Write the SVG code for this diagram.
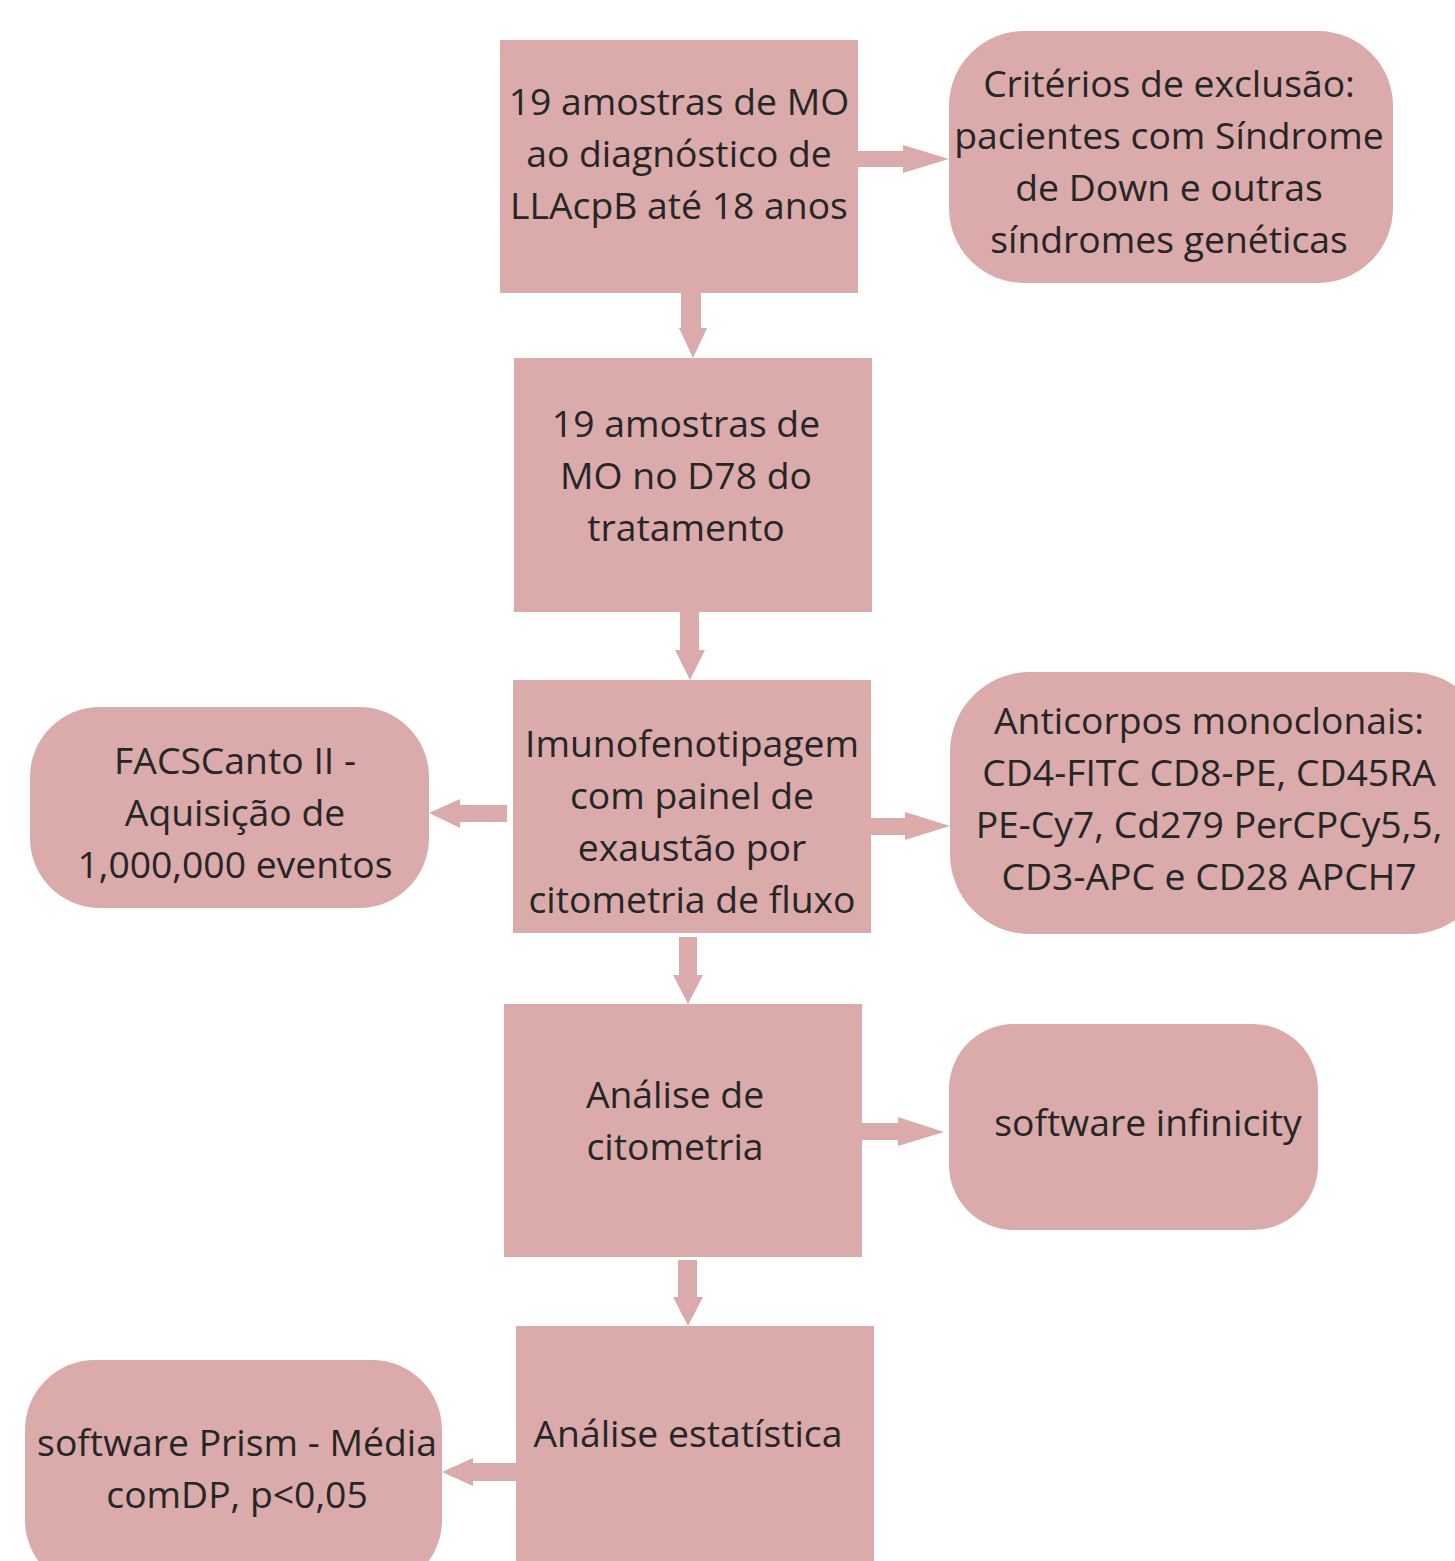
<svg xmlns="http://www.w3.org/2000/svg" width="1455" height="1561" viewBox="0 0 1455 1561">
<style>
.n{fill:#dbaaab;}
.t{font-family:"Open Sans","Noto Sans",sans-serif;font-size:37.3px;fill:#262626;text-anchor:middle;}
.a{fill:#dbaaab;}
</style>
<rect width="1455" height="1561" fill="#ffffff"/>
<g id="connectors">
<polygon class="a" points="858,151 903,151 903,145 949,159 903,173 903,167 858,167"/>
<polygon class="a" points="681,293 701,293 701,328 707,328 693,358 679,328 681,328"/>
<polygon class="a" points="680,612 699,612 699,650 705,650 690,680 675,650 680,650"/>
<polygon class="a" points="507,805 460,805 460,799 429,813 460,828 460,822 507,822"/>
<polygon class="a" points="871,818 905,818 905,812 950,826 905,840 905,835 871,835"/>
<polygon class="a" points="679,937 697,937 697,975 703,975 688,1004 673,975 679,975"/>
<polygon class="a" points="862,1123 898,1123 898,1117 944,1132 898,1146 898,1140 862,1140"/>
<polygon class="a" points="678,1260 697,1260 697,1297 703,1297 688,1326 673,1297 678,1297"/>
<polygon class="a" points="516,1463 473,1463 473,1458 442,1472 473,1486 473,1481 516,1481"/>
</g>
<g id="n1">
<rect class="n" x="500" y="40" width="358" height="253"/>
<text class="t" x="679" y="115">19 amostras de MO</text>
<text class="t" x="679" y="167">ao diagnóstico de</text>
<text class="t" x="679" y="219">LLAcpB até 18 anos</text>
</g>
<g id="n2">
<rect class="n" x="949" y="31" width="444" height="252" rx="75"/>
<text class="t" x="1169" y="97">Critérios de exclusão:</text>
<text class="t" x="1169" y="149">pacientes com Síndrome</text>
<text class="t" x="1169" y="201">de Down e outras</text>
<text class="t" x="1169" y="253">síndromes genéticas</text>
</g>
<g id="n3">
<rect class="n" x="514" y="358" width="358" height="254"/>
<text class="t" x="686" y="437">19 amostras de</text>
<text class="t" x="686" y="489">MO no D78 do</text>
<text class="t" x="686" y="541">tratamento</text>
</g>
<g id="n4">
<rect class="n" x="513" y="680" width="358" height="253"/>
<text class="t" x="692" y="757">Imunofenotipagem</text>
<text class="t" x="692" y="809">com painel de</text>
<text class="t" x="692" y="861">exaustão por</text>
<text class="t" x="692" y="913">citometria de fluxo</text>
</g>
<g id="n5">
<rect class="n" x="30" y="707" width="399" height="201" rx="70"/>
<text class="t" x="235" y="774">FACSCanto II -</text>
<text class="t" x="235" y="826">Aquisição de</text>
<text class="t" x="235" y="878">1,000,000 eventos</text>
</g>
<g id="n6">
<rect class="n" x="950" y="672" width="540" height="262" rx="80"/>
<text class="t" x="1209" y="734">Anticorpos monoclonais:</text>
<text class="t" x="1209" y="786">CD4-FITC CD8-PE, CD45RA</text>
<text class="t" x="1209" y="838">PE-Cy7, Cd279 PerCPCy5,5,</text>
<text class="t" x="1209" y="890">CD3-APC e CD28 APCH7</text>
</g>
<g id="n7">
<rect class="n" x="504" y="1004" width="358" height="253"/>
<text class="t" x="675" y="1108">Análise de</text>
<text class="t" x="675" y="1160">citometria</text>
</g>
<g id="n8">
<rect class="n" x="949" y="1024" width="369" height="206" rx="65"/>
<text class="t" x="1148" y="1136">software infinicity</text>
</g>
<g id="n9">
<rect class="n" x="516" y="1326" width="358" height="260"/>
<text class="t" x="688" y="1447">Análise estatística</text>
</g>
<g id="n10">
<rect class="n" x="25" y="1360" width="417" height="230" rx="70"/>
<text class="t" x="237" y="1456">software Prism - Média</text>
<text class="t" x="237" y="1508">comDP, p&lt;0,05</text>
</g>
</svg>
